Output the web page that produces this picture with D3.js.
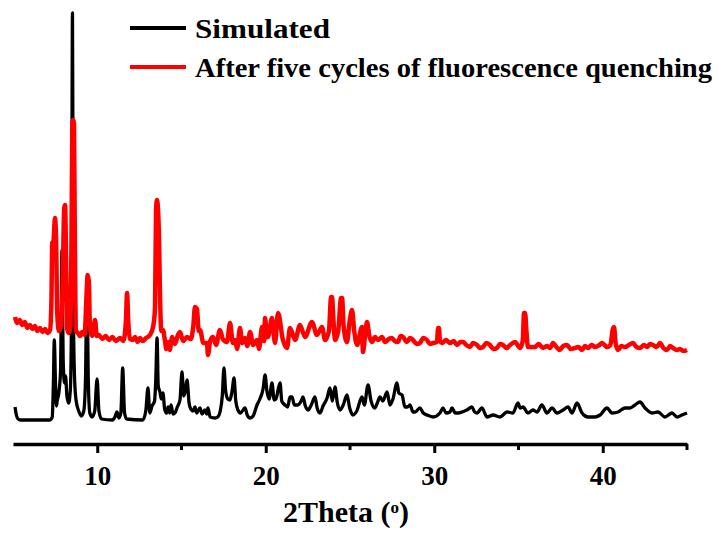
<!DOCTYPE html>
<html>
<head>
<meta charset="utf-8">
<script src="https://cdn.jsdelivr.net/npm/d3@7"></script>
<style>
  html, body { margin: 0; padding: 0; background: #fff; }
  svg { display: block; }
  text { font-family: "Liberation Serif", "Times New Roman", serif; font-weight: bold; }
</style>
</head>
<body>
<svg id="chart" width="719" height="534"></svg>
<script>
// ---- data (2Theta in degrees, intensity in arbitrary units) ----
const seriesNames = ["Simulated", "After five cycles of fluorescence quenching"];
const seriesColors = ["#000000", "#ff0000"];
const xTicks = [10, 20, 30, 40];
const xMinorTicks = [15, 25, 35, 45];

const simTheta = [5.12,5.2,5.3,5.45,7.2,7.33,7.4,7.45,7.52,7.58,7.62,7.72,7.82,7.91,7.98,8.05,8.12,8.2,8.3,8.4,8.47,8.53,8.59,8.66,8.75,8.9,9.05,9.2,9.3,9.39,9.47,9.56,9.7,9.85,9.99,10.1,10.25,10.9,11.05,11.17,11.28,11.4,11.51,11.62,11.75,12.7,12.88,13.01,13.12,13.25,13.4,13.47,13.55,13.62,13.72,13.8,13.9,14.0,14.12,14.2,14.3,14.38,14.5,14.61,14.75,14.91,15.03,15.13,15.2,15.33,15.45,15.55,15.68,15.8,15.9,16.1,16.22,16.39,16.5,16.57,16.7,16.99,17.15,17.3,17.42,17.52,17.62,17.75,17.88,18.0,18.12,18.22,18.35,18.5,18.77,18.9,19.07,19.25,19.48,19.65,19.84,19.96,20.07,20.2,20.37,20.5,20.6,20.85,20.95,21.02,21.14,21.3,21.44,21.56,21.7,21.91,22.1,22.21,22.35,22.51,22.7,22.92,23.05,23.22,23.4,23.64,23.81,23.95,24.11,24.25,24.41,24.6,24.82,24.98,25.18,25.4,25.71,25.85,26.07,26.25,26.48,26.62,26.78,26.95,27.2,27.37,27.55,27.79,27.9,28.09,28.26,28.4,28.56,28.74,28.86,29.15,29.35,29.57,29.93,30.34,30.52,30.7,30.93,31.05,31.25,31.41,31.94,32.24,32.4,32.54,32.83,33.13,33.49,33.9,34.32,34.67,34.97,35.1,35.27,35.56,35.86,36.1,36.39,36.69,36.99,37.28,37.64,37.94,38.18,38.47,38.77,39.12,39.54,39.84,40.25,40.55,40.91,41.32,41.62,41.91,42.21,42.51,42.92,43.28,43.69,44.11,44.41,44.7,45.0];
const simIntensity = [34,26,22,21,21,24,60,101,60,35,40,48,70,191,80,58,65,45,38,50,120,428,120,60,40,30,25,30,60,159,60,28,24,30,62,30,22,21,24,29,23,28,73,28,22,21,30,53,28,35,40,60,103,55,49,42,48,32,28,34,28,36,27,28,34,41,69,45,48,61,38,32,30,34,28,33,27,31,27,33,24,23,24,30,45,73,50,42,41,50,63,40,31,28,33,26,23,25,36,42,52,66,50,42,58,41,42,58,40,38,36,34,44,44,36,36,40,44,35,31,36,44,33,28,35,43,53,40,54,38,31,36,46,33,26,30,44,36,56,40,33,38,44,40,49,36,42,58,48,46,34,34,36,29,29,33,28,26,24,28,33,28,29,33,28,28,31,34,29,28,33,24,26,24,29,28,38,33,34,28,31,29,36,28,33,28,31,34,28,38,28,24,24,26,33,28,29,33,33,36,39,33,28,29,24,28,24,26,28];

const expTheta = [5.12,5.25,5.4,5.55,5.7,5.85,6.0,6.15,6.3,6.45,6.6,6.75,6.9,7.05,7.2,7.28,7.33,7.4,7.49,7.56,7.62,7.72,7.85,7.95,8.04,8.09,8.16,8.22,8.3,8.4,8.47,8.52,8.56,8.62,8.67,8.74,8.85,8.98,9.1,9.25,9.35,9.43,9.5,9.57,9.7,9.87,9.97,10.1,10.3,10.5,10.7,10.9,11.1,11.35,11.55,11.7,11.77,11.84,11.94,12.1,12.24,12.4,12.54,12.7,12.9,13.13,13.31,13.42,13.5,13.55,13.61,13.66,13.72,13.8,13.9,14.02,14.1,14.2,14.3,14.45,14.61,14.79,14.91,15.1,15.33,15.55,15.7,15.8,15.92,16.02,16.1,16.3,16.51,16.57,16.7,16.87,17.05,17.28,17.45,17.7,17.88,18.05,18.18,18.3,18.47,18.6,18.77,18.9,19.07,19.25,19.48,19.6,19.78,19.9,19.96,20.07,20.13,20.37,20.55,20.73,21.02,21.26,21.44,21.74,22.03,22.33,22.74,23.04,23.34,23.52,23.75,23.88,23.93,24.02,24.11,24.3,24.47,24.53,24.62,24.82,24.98,25.12,25.25,25.42,25.71,25.77,25.92,26.01,26.15,26.31,26.48,26.66,26.9,27.08,27.3,27.49,27.65,27.85,28.0,28.15,28.38,28.56,28.74,28.95,29.15,29.35,29.57,29.75,29.93,30.16,30.23,30.28,30.34,30.46,30.7,30.93,31.15,31.35,31.55,31.71,31.9,32.12,32.3,32.54,32.7,32.89,33.1,33.31,33.5,33.72,33.9,34.08,34.3,34.5,34.79,35.09,35.25,35.33,35.39,35.47,35.56,35.98,36.2,36.45,36.7,36.87,37.05,37.25,37.46,37.65,37.88,38.1,38.35,38.55,38.77,38.95,39.12,39.35,39.54,39.8,39.96,40.25,40.45,40.6,40.67,40.76,40.91,41.1,41.32,41.55,41.8,42.0,42.21,42.45,42.63,42.8,42.98,43.2,43.4,43.6,43.81,44.0,44.17,44.4,44.58,44.8,45.0];
const expIntensity = [124,118,121,116,119,113,116,112,115,110,113,109,112,108,111,140,198,200,223,200,130,110,115,160,233,236,170,112,108,112,200,310,321,318,200,110,108,105,109,106,140,166,160,112,105,121,105,106,102,105,101,104,100,103,100,120,148,120,102,101,104,99,103,100,103,106,114,130,235,241,230,208,150,110,111,100,92,99,91,104,97,106,109,100,104,102,115,134,132,110,111,98,98,86,100,104,96,111,102,99,118,98,101,92,113,98,103,95,109,96,101,92,114,100,123,104,104,123,98,128,101,93,113,101,116,104,119,106,114,101,110,144,144,120,101,110,143,143,115,99,120,131,110,96,114,89,110,119,105,99,104,101,104,99,102,103,100,99,105,104,99,103,101,97,98,103,101,97,98,99,113,113,100,98,101,98,100,96,99,99,96,94,98,96,93,94,98,96,92,93,97,96,93,96,99,93,100,128,128,110,94,94,97,93,95,93,98,94,91,95,96,92,93,94,91,95,93,96,94,96,98,94,96,112,114,98,91,95,94,96,98,94,93,96,94,97,96,94,98,93,91,95,93,91,92,90,91];

// ---- chart ----
const svg = d3.select("#chart");
const x = d3.scaleLinear().domain([5, 45]).range([13, 687]);
const y = d3.scaleLinear().domain([0, 428]).range([441, 13]);
const axisY = 444;

const line = d3.line()
  .x(d => x(d[0]))
  .y(d => y(d[1]))
  .curve(d3.curveMonotoneX);

const simData = simTheta.map((t, i) => [t, simIntensity[i]]);
const expData = expTheta.map((t, i) => [t, expIntensity[i]]);

svg.append("path").datum(simData)
  .attr("d", line).attr("fill", "none")
  .attr("stroke", seriesColors[0]).attr("stroke-width", 3.3)
  .attr("stroke-linejoin", "round");

svg.append("path").datum(expData)
  .attr("d", line).attr("fill", "none")
  .attr("stroke", seriesColors[1]).attr("stroke-width", 4.5)
  .attr("stroke-linejoin", "round");

// x axis
const gx = svg.append("g").attr("transform", `translate(0,${axisY})`);
gx.call(d3.axisBottom(x).tickValues(xTicks).tickSize(9).tickSizeOuter(0).tickPadding(13).tickFormat(d3.format("d")));
gx.select(".domain").attr("stroke", "#000").attr("stroke-width", 3.5);
gx.selectAll(".tick line").attr("stroke", "#000").attr("stroke-width", 3);
gx.selectAll(".tick text").attr("fill", "#000")
  .style("font-family", "'Liberation Serif', 'Times New Roman', serif")
  .style("font-weight", "bold").style("font-size", "27px");
gx.selectAll(".minor").data(xMinorTicks).enter().append("line")
  .attr("class", "minor")
  .attr("x1", d => x(d)).attr("x2", d => x(d))
  .attr("y1", 0).attr("y2", 6)
  .attr("stroke", "#000").attr("stroke-width", 3);

// axis title
const title = svg.append("text")
  .attr("x", 346).attr("y", 522)
  .attr("text-anchor", "middle")
  .style("font-size", "30px").attr("fill", "#000");
title.append("tspan").text("2Theta (");
title.append("tspan").text("o").attr("baseline-shift", "super").style("font-size", "17px");
title.append("tspan").text(")");

// legend
const legendWidths = [135, 517];
const legend = svg.append("g");
seriesNames.forEach((name, i) => {
  const ly = 28 + i * 39;
  legend.append("line")
    .attr("x1", 130).attr("x2", 186).attr("y1", ly).attr("y2", ly)
    .attr("stroke", seriesColors[i]).attr("stroke-width", 4);
  legend.append("text")
    .attr("x", 195).attr("y", ly + 10)
    .style("font-size", "28px").attr("fill", "#000")
    .attr("textLength", legendWidths[i]).attr("lengthAdjust", "spacingAndGlyphs")
    .text(name);
});
</script>
</body>
</html>
